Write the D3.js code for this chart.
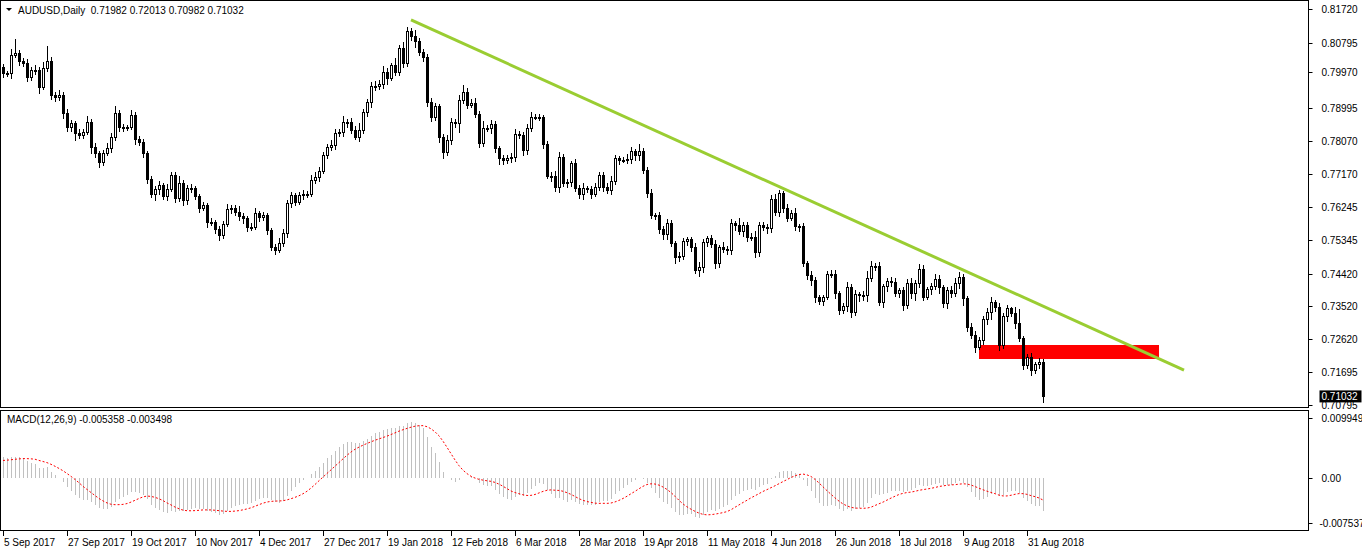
<!DOCTYPE html>
<html><head><meta charset="utf-8">
<script src="https://cdn.jsdelivr.net/npm/d3@7"></script>
<style>body{margin:0;background:#fff}text{font-family:"Liberation Sans",Arial,sans-serif;font-size:10px;fill:#000}</style>
</head><body><svg id="c" width="1362" height="553"></svg>
<script>
// ---- data ----
const closes=[0.7995,0.7995,0.8045,0.8050,0.8026,0.8023,0.7984,0.8003,0.8001,0.7956,0.8009,0.8028,0.7934,0.7929,0.7934,0.7885,0.7846,0.7857,0.7829,0.7824,
0.7832,0.7860,0.7791,0.7774,0.7749,0.7774,0.7788,0.7818,0.7885,0.7846,0.7846,0.7846,0.7879,0.7813,0.7804,0.7774,0.7702,0.7661,0.7674,0.7685,
0.7655,0.7674,0.7713,0.7650,0.7691,0.7644,0.7677,0.7677,0.7655,0.7622,0.7630,0.7583,0.7583,0.7564,0.7547,0.7578,0.7619,0.7622,0.7611,0.7600,
0.7594,0.7569,0.7569,0.7608,0.7597,0.7603,0.7561,0.7514,0.7506,0.7525,0.7553,0.7636,0.7658,0.7638,0.7658,0.7661,0.7661,0.7699,0.7708,0.7724,
0.7768,0.7791,0.7796,0.7829,0.7832,0.7860,0.7860,0.7838,0.7818,0.7838,0.7887,0.7915,0.7959,0.7959,0.7965,0.7998,0.7981,0.8015,0.7998,0.8064,
0.8023,0.8109,0.8095,0.8081,0.8053,0.8037,0.7915,0.7873,0.7904,0.7818,0.7777,0.7810,0.7860,0.7857,0.7920,0.7943,0.7907,0.7912,0.7882,0.7802,
0.7843,0.7843,0.7854,0.7788,0.7760,0.7755,0.7760,0.7763,0.7826,0.7824,0.7782,0.7843,0.7873,0.7873,0.7873,0.7799,0.7710,0.7710,0.7680,0.7763,
0.7691,0.7694,0.7746,0.7677,0.7661,0.7677,0.7674,0.7661,0.7680,0.7713,0.7680,0.7672,0.7697,0.7760,0.7755,0.7755,0.7757,0.7779,0.7768,0.7779,
0.7727,0.7663,0.7603,0.7603,0.7564,0.7550,0.7580,0.7525,0.7486,0.7489,0.7531,0.7536,0.7514,0.7450,0.7459,0.7528,0.7539,0.7522,0.7470,0.7514,
0.7509,0.7506,0.7580,0.7575,0.7558,0.7575,0.7542,0.7542,0.7500,0.7575,0.7569,0.7567,0.7647,0.7611,0.7663,0.7622,0.7594,0.7608,0.7572,0.7572,
0.7470,0.7437,0.7423,0.7376,0.7365,0.7376,0.7439,0.7439,0.7387,0.7340,0.7351,0.7403,0.7334,0.7384,0.7381,0.7381,0.7428,0.7462,0.7462,0.7362,
0.7406,0.7420,0.7417,0.7387,0.7395,0.7354,0.7415,0.7387,0.7415,0.7453,0.7376,0.7398,0.7406,0.7426,0.7403,0.7359,0.7395,0.7387,0.7415,0.7431,
0.7373,0.7293,0.7271,0.7238,0.7257,0.7315,0.7334,0.7362,0.7348,0.7243,0.7323,0.7345,0.7332,0.7304,0.7262,0.7188,0.7210,0.7174,0.7191,0.7196,0.71032];
const firstOpen=0.8010;
// wick lengths in pips (upper / lower)
const wickUp=[10,6,18,40,8,10,12,8,14,10,16,42,12,10,14,8,12,10,6,12,10,16,8,10,6,10,14,12,20,8,10,6,14,10,8,10,6,8,10,12,6,14,10,8,20,10,10,12,8,6,
10,8,12,6,8,10,14,10,8,18,10,8,12,16,8,10,6,8,10,14,12,10,8,6,10,12,8,16,14,12,10,8,14,12,10,16,8,12,10,20,10,8,12,14,10,16,10,8,22,10,
18,14,10,20,12,8,10,12,10,6,8,14,12,8,16,18,10,12,14,8,20,10,12,8,6,10,8,12,14,10,10,12,14,8,10,6,8,12,16,14,10,8,6,12,10,14,8,10,12,8,
10,12,14,8,6,10,16,12,8,20,10,8,12,6,10,8,14,10,8,12,10,8,6,12,14,10,8,10,12,8,14,10,12,8,20,10,8,12,18,10,8,10,12,14,10,8,12,10,16,8,
10,8,12,10,6,8,10,12,14,8,10,16,10,12,8,14,22,16,10,12,8,10,12,14,8,10,12,14,10,16,12,8,10,14,12,8,10,12,14,16,10,8,12,14,10,10,12,16,8,12,10];
const wickDn=[14,10,16,8,12,10,14,10,12,18,8,10,12,14,10,16,12,14,20,10,12,8,18,12,16,10,8,12,10,14,12,10,8,16,10,14,12,10,18,14,10,12,8,14,10,16,12,14,10,12,
8,14,10,12,16,10,8,12,10,14,16,12,10,8,14,10,12,10,12,8,10,12,14,10,8,12,10,8,10,12,8,10,12,14,10,12,16,10,8,12,10,14,16,12,10,14,20,8,10,12,
14,10,12,16,10,12,14,12,10,16,18,10,12,14,26,10,12,8,10,14,12,10,16,14,18,12,10,14,12,10,16,12,10,8,10,12,8,14,12,16,10,12,14,10,12,16,10,12,8,10,
12,10,14,10,12,8,10,12,16,14,10,12,10,14,12,16,14,10,18,12,10,14,12,10,18,14,12,10,16,12,10,14,12,16,10,14,12,10,14,12,10,16,12,10,14,12,10,8,12,16,
10,12,14,16,10,12,8,10,14,12,10,16,14,10,18,14,16,10,12,10,16,14,12,10,12,14,10,16,20,12,10,8,14,10,16,12,14,12,10,16,20,12,10,14,8,12,14,20,12,14,10];
const dateLabels=["5 Sep 2017","27 Sep 2017","19 Oct 2017","10 Nov 2017","4 Dec 2017","27 Dec 2017","19 Jan 2018","12 Feb 2018","6 Mar 2018","28 Mar 2018","19 Apr 2018","11 May 2018","4 Jun 2018","26 Jun 2018","18 Jul 2018","9 Aug 2018","31 Aug 2018"];
const priceTicks=[0.81720,0.80795,0.79970,0.78995,0.78070,0.77170,0.76245,0.75345,0.74420,0.73520,0.72620,0.71695,0.70795];
const macdTicks=[0.009949,0.00,-0.007537];
const macdStart=0.0035, signalStart=0.0028;
const trendLine=[{bar:102,price:0.8142},{bar:295.25,price:0.7176}];
const zone={bar0:244,bar1:289,top:0.7245,bottom:0.7206};
const lastPrice=0.71032;
// ---- build ----
const n=closes.length;
const bars=closes.map((c,i)=>{const o=i?closes[i-1]:firstOpen;return{i,o,c,h:Math.max(o,c)+wickUp[i%wickUp.length]*1e-4,l:Math.min(o,c)-wickDn[i%wickDn.length]*1e-4};});
const a12=2/13,a26=2/27;let e12=closes[0],e26=closes[0]-macdStart;const macd=[];
closes.forEach((c,i)=>{if(i){e12=e12+a12*(c-e12);e26=e26+a26*(c-e26);}macd.push(e12-e26);});
const signal=macd.map((m,i)=>{const s=macd.slice(Math.max(0,i-8),i+1);const pad=9-s.length;return (d3.sum(s)+pad*signalStart)/9;});

const svg=d3.select("#c");
const x=d3.scaleLinear().domain([0,1]).range([3,7]);
const y=d3.scaleLinear().domain([0.70795,0.81720]).range([405,9]);
const ym=d3.scaleLinear().domain([-0.007537,0.009949]).range([523,418]);
const W=1308;
svg.append("rect").attr("x",0.5).attr("y",0.5).attr("width",W).attr("height",407).attr("fill","none").attr("stroke","#000");
svg.append("rect").attr("x",0.5).attr("y",410.5).attr("width",W).attr("height",120).attr("fill","none").attr("stroke","#000");
svg.append("clipPath").attr("id","cp").append("rect").attr("x",1).attr("y",1).attr("width",W-1).attr("height",406);
const g=svg.append("g").attr("clip-path","url(#cp)").attr("shape-rendering","crispEdges");
g.append("rect").attr("x",x(zone.bar0)).attr("y",y(zone.top)).attr("width",x(zone.bar1)-x(zone.bar0)).attr("height",y(zone.bottom)-y(zone.top)).attr("fill","#ff0000");
const cg=g.selectAll("g.cd").data(bars).join("g");
cg.append("line").attr("x1",d=>Math.round(x(d.i))+0.5).attr("x2",d=>Math.round(x(d.i))+0.5).attr("y1",d=>y(d.h)).attr("y2",d=>y(d.l)).attr("stroke","#000");
cg.append("rect").attr("x",d=>Math.round(x(d.i))-1).attr("width",2)
 .attr("y",d=>y(Math.max(d.o,d.c))).attr("height",d=>Math.max(1,y(Math.min(d.o,d.c))-y(Math.max(d.o,d.c))))
 .attr("fill",d=>d.c>=d.o?"#fff":"#000").attr("stroke","#000");
svg.append("line").attr("x1",x(trendLine[0].bar)).attr("y1",y(trendLine[0].price)).attr("x2",x(trendLine[1].bar)).attr("y2",y(trendLine[1].price)).attr("stroke","#9acd32").attr("stroke-width",3);
const pa=svg.append("g").attr("transform",`translate(${W+0.5},0)`);
pa.selectAll("line").data(priceTicks).join("line").attr("x1",0).attr("x2",4).attr("y1",d=>Math.round(y(d))+0.5).attr("y2",d=>Math.round(y(d))+0.5).attr("stroke","#000");
pa.selectAll("text").data(priceTicks).join("text").attr("x",13).attr("y",d=>y(d)+4).text(d=>d.toFixed(5));
pa.append("rect").attr("x",11).attr("y",y(lastPrice)-6).attr("width",42).attr("height",12).attr("fill","#000");
pa.append("text").attr("x",13).attr("y",y(lastPrice)+4).style("fill","#fff").text(lastPrice.toFixed(5));
const mg=svg.append("g").attr("shape-rendering","crispEdges");
mg.selectAll("line").data(macd).join("line").attr("x1",(d,i)=>Math.round(x(i))+0.5).attr("x2",(d,i)=>Math.round(x(i))+0.5)
 .attr("y1",ym(0)).attr("y2",d=>ym(d)).attr("stroke","#c0c0c0");
svg.append("path").datum(signal).attr("d",d3.line().x((d,i)=>x(i)).y(d=>ym(d))).attr("fill","none").attr("stroke","#ff0000").attr("stroke-dasharray","2,2");
const ma=svg.append("g").attr("transform",`translate(${W+0.5},0)`);
ma.selectAll("line").data(macdTicks).join("line").attr("x1",0).attr("x2",4).attr("y1",d=>Math.round(ym(d))+0.5).attr("y2",d=>Math.round(ym(d))+0.5).attr("stroke","#000");
ma.selectAll("text").data(macdTicks).join("text").attr("x",d=>d<0?11:13).attr("y",d=>ym(d)+4).text(d=>d===0?"0.00":d.toFixed(6));
const da=svg.append("g");
da.selectAll("line").data(dateLabels).join("line").attr("x1",(d,i)=>Math.round(x(i*16))+0.5).attr("x2",(d,i)=>Math.round(x(i*16))+0.5).attr("y1",531).attr("y2",536).attr("stroke","#000");
da.selectAll("text").data(dateLabels).join("text").attr("x",(d,i)=>x(i*16)+1).attr("y",546).text(d=>d);
svg.append("path").attr("d","M6,8 L12,8 L9,11 Z").attr("fill","#000");
svg.append("text").attr("x",18).attr("y",14).attr("xml:space","preserve").text("AUDUSD,Daily  0.71982 0.72013 0.70982 0.71032");
svg.append("text").attr("x",7).attr("y",423).text("MACD(12,26,9) -0.005358 -0.003498");
</script></body></html>
